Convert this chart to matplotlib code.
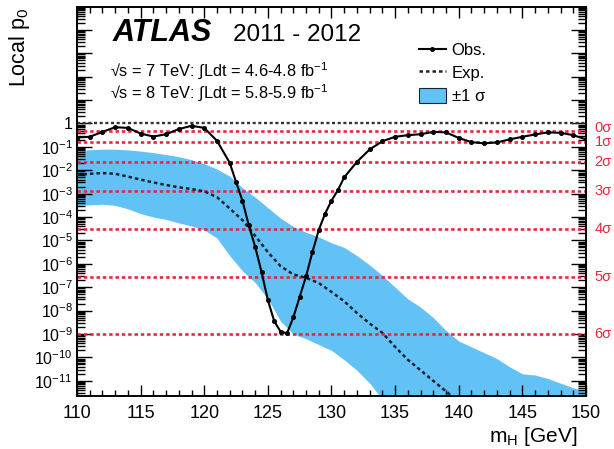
import numpy as np
import matplotlib
matplotlib.use("Agg")
import matplotlib.pyplot as plt
import matplotlib.transforms as mtransforms
from matplotlib.lines import Line2D
from matplotlib.patches import Patch
from matplotlib.ticker import LogLocator, FuncFormatter, MultipleLocator

plt.rcParams['font.family'] = ['Liberation Sans', 'DejaVu Sans']
plt.rcParams['mathtext.fontset'] = 'custom'
plt.rcParams['mathtext.rm'] = 'Liberation Sans'
plt.rcParams['mathtext.it'] = 'Liberation Sans:italic'
plt.rcParams['mathtext.bf'] = 'Liberation Sans:bold'

# === données (log10 de p0) ===
m_obs = [110, 111, 112, 113, 114, 115, 116, 117, 118, 119, 120, 121, 122, 122.5,
         123, 123.5, 124, 124.5, 125, 125.5, 126, 126.5, 127, 127.5, 128, 128.5,
         129, 129.5, 130, 130.5, 131, 132, 133, 134, 135, 136, 137, 138, 139, 140,
         141, 142, 143, 144, 145, 146, 147, 148, 149, 150]
logp_obs = [-0.60, -0.57, -0.36, -0.16, -0.19, -0.43, -0.56, -0.46, -0.24, -0.10,
            -0.19, -0.74, -1.68, -2.50, -3.30, -4.35, -5.27, -6.34, -7.55, -8.45,
            -8.90, -8.97, -8.29, -7.41, -6.53, -5.50, -4.55, -3.85, -3.30, -2.85,
            -2.30, -1.64, -1.11, -0.76, -0.57, -0.50, -0.46, -0.36, -0.38, -0.62,
            -0.80, -0.85, -0.81, -0.68, -0.57, -0.47, -0.38, -0.40, -0.50, -0.68]

m_exp = [110, 111, 112, 113, 114, 115, 116, 117, 118, 119, 120, 121, 122, 123, 124,
         125, 126, 127, 128, 129, 130, 131, 132, 133, 134, 135, 136, 137, 138, 139, 140]
logp_exp = [-2.20, -2.15, -2.12, -2.15, -2.27, -2.40, -2.52, -2.63, -2.73, -2.80,
            -2.90, -3.15, -3.63, -4.13, -4.80, -5.50, -6.10, -6.45, -6.60, -6.82,
            -7.20, -7.60, -8.10, -8.55, -8.95, -9.55, -10.10, -10.55, -11.00, -11.45, -11.90]

m_band = list(range(110, 151))
logp_up = [-1.17, -1.12, -1.10, -1.10, -1.13, -1.18, -1.25, -1.33, -1.42, -1.55,
           -1.72, -1.95, -2.25, -2.75, -3.15, -3.60, -4.05, -4.40, -4.65, -4.85,
           -5.10, -5.30, -5.65, -6.05, -6.50, -7.00, -7.50, -7.85, -8.30, -8.85,
           -9.30, -9.55, -9.80, -10.05, -10.40, -10.70, -10.75, -10.90, -11.10, -11.30, -11.45]
logp_dn = [-3.50, -3.48, -3.45, -3.50, -3.65, -3.85, -4.00, -4.10, -4.25, -4.38,
           -4.55, -4.90, -5.65, -6.30, -6.80, -7.50, -8.45, -9.00, -9.20, -9.45,
           -9.70, -10.10, -10.55, -11.10, -11.80, -12.50, -13.0, -13.0, -13.0, -13.0,
           -13.0, -13.0, -13.0, -13.0, -13.0, -13.0, -13.0, -13.0, -13.0, -13.0, -13.0]

sigma_labels = ['0σ', '1σ', '2σ', '3σ', '4σ', '5σ', '6σ']
sigma_p = [0.5, 0.1587, 0.02275, 1.35e-3, 3.17e-5, 2.87e-7, 9.87e-10]

p_obs = 10.0 ** np.array(logp_obs)
p_exp = 10.0 ** np.array(logp_exp)
p_up = 10.0 ** np.array(logp_up)
p_dn = 10.0 ** np.array(logp_dn)

red = '#e5283f'
blue = '#62c1f5'
dash = (0, (1.3, 1.1))

# === figure ===
fig = plt.figure(figsize=(6.14, 4.49), dpi=100)
ax = fig.add_axes([0.1254, 0.119, 0.829, 0.865])

ax.fill_between(m_band, p_dn, p_up, color=blue, lw=0, zorder=1)
for p in sigma_p:
    ax.axhline(p, color=red, ls=dash, lw=1.9, zorder=2)
ax.axhline(1.0, color='#333333', ls=dash, lw=1.7, zorder=2)
ax.plot(m_exp, p_exp, color='#1a2233', ls=(0, (1.4, 1.2)), lw=1.8, zorder=3)
ax.plot(m_obs, p_obs, color='black', lw=1.5, marker='o', ms=2.6, zorder=4)

ax.set_yscale('log')
ax.set_xlim(110, 150)
ax.set_ylim(10 ** -11.63, 10 ** 4.97)

ax.xaxis.set_major_locator(MultipleLocator(5))
ax.xaxis.set_minor_locator(MultipleLocator(1))
ax.yaxis.set_major_locator(LogLocator(base=10, numticks=100))
ax.yaxis.set_minor_locator(LogLocator(base=10, subs=np.arange(2, 10), numticks=100))


def fmt(v, pos):
    lo, hi = ax.get_ylim()
    if v < lo or v > 1.5:
        return ''
    e = int(round(np.log10(v)))
    if e == 0:
        return '1'
    return r'$\mathregular{10^{%d}}$' % e


ax.yaxis.set_major_formatter(FuncFormatter(fmt))
ax.tick_params(which='both', direction='in', top=True, right=True, width=1.0)
ax.tick_params(axis='x', which='major', length=8, labelsize=13, pad=7)
ax.tick_params(axis='x', which='minor', length=4)
ax.tick_params(axis='y', which='major', length=11, labelsize=11.5, pad=3)
ax.tick_params(axis='y', which='minor', length=6)
for s in ax.spines.values():
    s.set_linewidth(1.4)

ax.set_xlabel(r'm$_\mathregular{H}$ [GeV]', fontsize=15, loc='right', labelpad=2)
ax.xaxis.set_label_coords(0.982, -0.075)
ax.set_ylabel(r'Local p$_\mathregular{0}$', fontsize=15.5, loc='top')
ax.yaxis.set_label_coords(-0.088, 1.0)

for i, (lab, p) in enumerate(zip(sigma_labels, sigma_p)):
    tr = ax.get_yaxis_transform()
    if i == 0:
        tr = mtransforms.offset_copy(tr, fig=fig, y=2.5, units='dots')
    ax.text(1.017, p, lab, color=red, fontsize=10.5, va='center', ha='left',
            transform=tr, clip_on=False)

fig.text(113 / 614, 1 - 41 / 449, 'ATLAS', fontsize=22, weight='bold', style='italic')
fig.text(233 / 614, 1 - 41 / 449, '2011 - 2012', fontsize=17.5)
fig.text(110 / 614, 1 - 76 / 449,
         '√s = 7 TeV: ∫Ldt = 4.6-4.8 fb$^\\mathregular{-1}$', fontsize=11.8)
fig.text(110 / 614, 1 - 97.5 / 449,
         '√s = 8 TeV: ∫Ldt = 5.8-5.9 fb$^\\mathregular{-1}$', fontsize=11.8)

handles = [Line2D([], [], color='black', lw=1.5, marker='o', ms=2.6),
           Line2D([], [], color='#1a2233', ls=(0, (1.4, 1.2)), lw=1.8),
           Patch(facecolor=blue, edgecolor='#1a2233', lw=0.8)]
ax.legend(handles, ['Obs.', 'Exp.', '±1 σ'], loc='upper left',
          bbox_to_anchor=(419 / 614, 1 - 42 / 449), bbox_transform=fig.transFigure,
          frameon=False, fontsize=12, handlelength=1.6, handletextpad=0.35,
          labelspacing=0.4, borderpad=0, borderaxespad=0, handleheight=1.0)

fig.savefig('out.png', dpi=100)
